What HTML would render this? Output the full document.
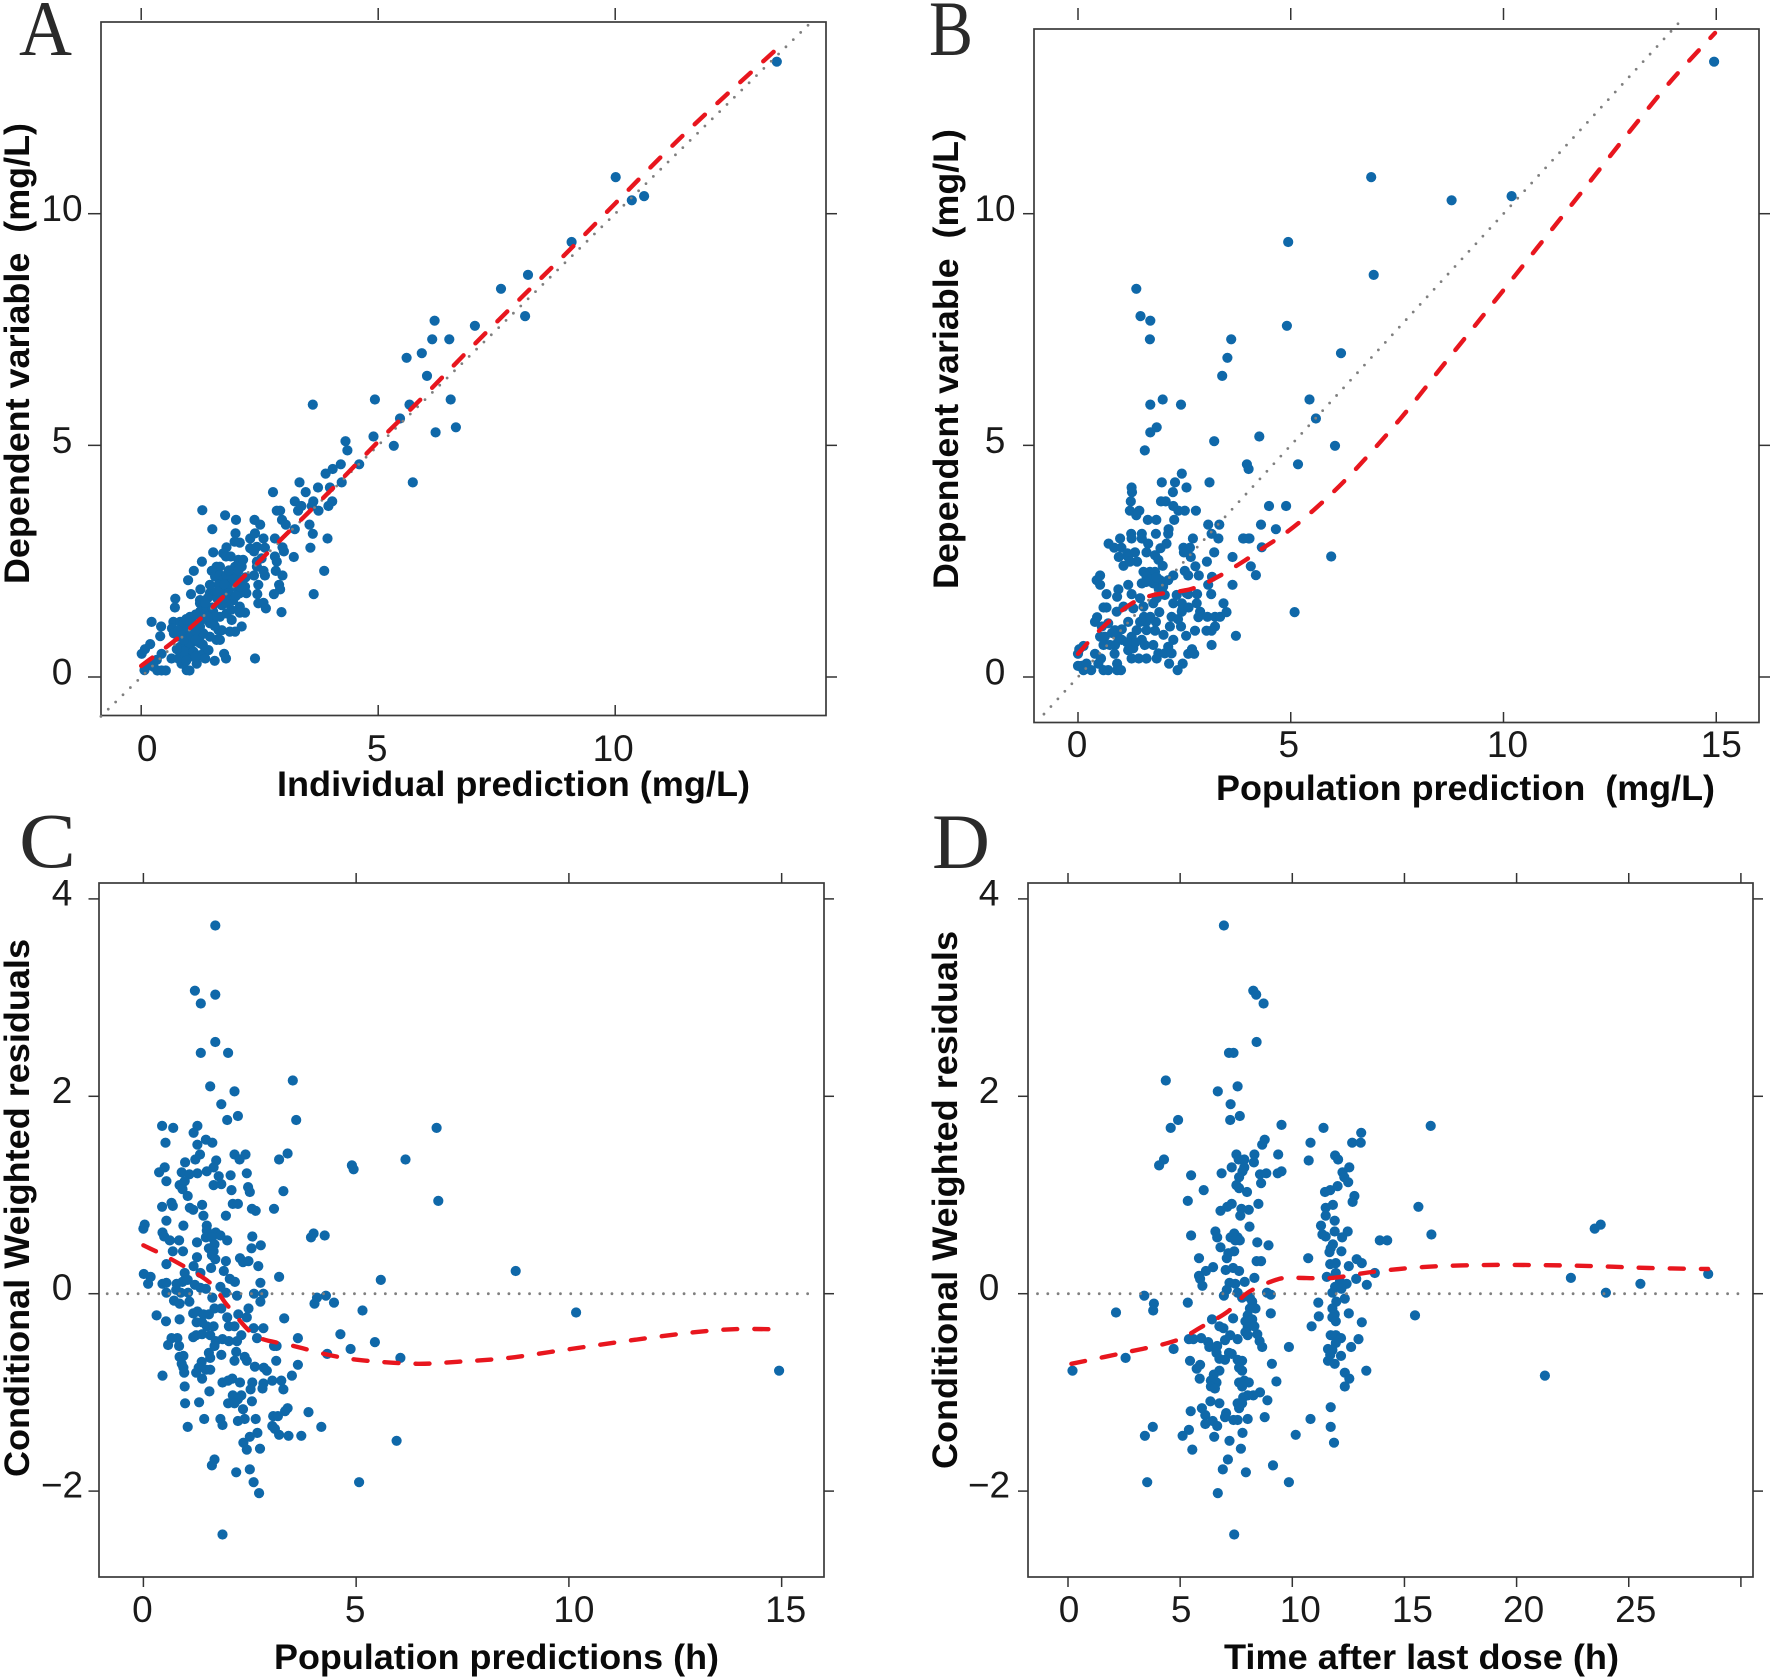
<!DOCTYPE html>
<html lang="en">
<head>
<meta charset="utf-8">
<title>Goodness-of-fit plots</title>
<style>
html,body{margin:0;padding:0;background:#fff;width:1772px;height:1680px;overflow:hidden}
svg{display:block}
text{font-family:"Liberation Sans",Arial,sans-serif;fill:#111}
.axis-title{font-weight:bold;font-size:35px;white-space:pre;fill:#0a0a0a}
.tick-label{font-size:37px;text-anchor:middle;fill:#1a1a1a}
.panel-letter{font-family:"Liberation Serif",serif;font-size:78px;fill:#2a2a2a}
.frame{fill:none;stroke:#3a3a3a;stroke-width:1.7}
</style>
</head>
<body>
<svg id="chart" xmlns="http://www.w3.org/2000/svg" width="1772" height="1680" viewBox="0 0 1772 1680">
<rect x="0" y="0" width="1772" height="1680" fill="#ffffff"/>

<text class="panel-letter" x="19" y="55" textLength="53" lengthAdjust="spacingAndGlyphs">A</text>
<text class="panel-letter" x="929" y="55" textLength="44" lengthAdjust="spacingAndGlyphs">B</text>
<text class="panel-letter" x="19" y="867" textLength="57" lengthAdjust="spacingAndGlyphs">C</text>
<text class="panel-letter" x="932" y="868" textLength="58" lengthAdjust="spacingAndGlyphs">D</text>

<rect class="frame" x="101" y="22" width="725" height="693.5"/>
<rect class="frame" x="1034" y="29" width="725" height="693.5"/>
<rect class="frame" x="99" y="883" width="725" height="694"/>
<rect class="frame" x="1028" y="883" width="725" height="694"/>

<text class="axis-title" x="277" y="796" textLength="473" lengthAdjust="spacingAndGlyphs">Individual prediction (mg/L)</text>
<text class="axis-title" transform="translate(29 584) rotate(-90)" x="0" y="0" textLength="461" lengthAdjust="spacingAndGlyphs">Dependent variable  (mg/L)</text>
<text class="axis-title" x="1216" y="800" textLength="499" lengthAdjust="spacingAndGlyphs">Population prediction  (mg/L)</text>
<text class="axis-title" transform="translate(958 589) rotate(-90)" x="0" y="0" textLength="460" lengthAdjust="spacingAndGlyphs">Dependent variable  (mg/L)</text>
<text class="axis-title" x="274" y="1669" textLength="445" lengthAdjust="spacingAndGlyphs">Population predictions (h)</text>
<text class="axis-title" transform="translate(29 1477) rotate(-90)" x="0" y="0" textLength="538" lengthAdjust="spacingAndGlyphs">Conditional Weighted residuals</text>
<text class="axis-title" x="1224" y="1669" textLength="395" lengthAdjust="spacingAndGlyphs">Time after last dose (h)</text>
<text class="axis-title" transform="translate(957 1469) rotate(-90)" x="0" y="0" textLength="538" lengthAdjust="spacingAndGlyphs">Conditional Weighted residuals</text>
</svg>

<script>
// ---------- Panel A data: individual prediction vs dependent variable ----------
const aPred = [13.41,10.01,10.35,10.61,9.08,8.16,7.59,8.10,7.04,6.19,6.14,6.50,5.92,5.60,6.03,6.53,4.93,3.62,5.66,5.46,6.64,6.21,4.90,4.31,5.33,4.35,4.60,4.21,4.04,3.89,5.73,4.23,3.34,3.98,3.73,3.47,2.78,
1.29,1.77,2.00,2.39,2.51,1.50,1.99,1.97,2.08,1.80,1.73,1.79,1.89,2.30,2.40,2.58,2.44,2.61,2.30,2.38,2.44,2.54,2.82,2.98,3.01,2.82,2.86,2.84,2.98,2.91,2.93,2.80,2.45,2.47,2.38,2.61,2.58,2.44,2.47,2.58,2.63,2.96,2.40,1.75,1.79,2.86,2.93,2.97,3.05,3.24,3.55,3.62,3.93,3.57,3.22,3.86,3.64,3.24,3.38,3.31,3.63,3.60,3.74,3.95,4.03,
.07,.17,.34,.43,.52,.01,.08,.19,.22,.42,.40,.64,.43,.33,.26,.72,.71,.99,1.11,1.28,1.05,1.25,1.52,
.68,.65,.69,.82,.78,.89,1.03,.97,1.10,1.24,1.24,1.38,1.45,1.59,1.66,1.49,1.56,1.66,1.73,1.80,1.91,1.98,2.05,2.15,2.12,2.01,2.08,2.19,2.22,2.08,1.94,1.80,1.63,1.45,1.56,1.70,1.84,1.94,2.08,2.19,2.08,1.91,1.80,1.66,1.52,1.63,1.70,1.59,1.66,2.12,1.98,1.87,1.45,1.31,1.24,1.10,.96,.89,.99,1.10,1.24,1.35,1.42,1.24,1.35,1.17,.96,1.02,.85,.78,1.03,.89,.96,.82,1.24,1.45,1.38,1.52,1.24,
.78,.85,1.00,1.10,.90,1.05,1.15,1.30,1.40,1.50,1.70,1.80,1.60,1.40,1.90,2.00,1.75,1.55,
.95,1.15,1.35,1.60,1.75,1.85,1.95,2.10,2.20,2.05,1.55,1.30,1.15,.90,.75,.95,1.15];
const aObs = [13.28,10.79,10.29,10.38,9.39,8.68,8.38,7.79,7.58,7.69,7.29,7.29,6.99,6.89,6.50,5.99,5.99,5.88,5.88,5.58,5.39,5.28,5.19,5.09,4.99,4.89,4.59,4.59,4.49,4.39,4.20,4.20,4.20,4.09,4.09,3.99,3.99,
3.60,3.49,3.39,3.39,3.29,3.19,3.10,2.92,2.90,2.80,2.67,2.60,2.60,2.99,3.10,2.99,2.81,2.79,2.78,2.71,2.49,2.56,2.99,2.80,2.71,2.60,2.49,2.29,2.19,1.99,1.89,1.79,1.79,1.99,2.19,2.19,2.29,2.38,1.59,1.60,1.48,1.40,.40,.50,.40,3.59,3.59,3.39,3.29,3.19,3.29,3.09,2.99,2.79,2.59,2.29,1.79,3.79,3.69,3.59,3.79,3.69,3.59,3.69,3.79,
.15,.26,.14,.14,.14,.50,.60,.71,1.19,1.09,.88,.40,.50,.37,.22,1.69,1.50,2.09,2.29,2.49,1.79,1.89,2.69,
1.19,1.05,.94,1.19,.87,1.16,1.30,1.05,1.16,1.59,1.41,1.45,1.81,2.38,2.38,2.29,2.17,2.20,2.09,2.20,2.17,2.38,2.53,2.53,2.38,2.17,2.02,1.95,1.81,1.81,1.95,1.99,1.99,1.99,1.81,1.81,1.81,1.66,1.52,1.39,1.39,1.23,1.37,1.30,1.23,1.01,1.01,.80,.80,1.09,.98,.98,1.16,.94,1.09,.94,.87,.65,.65,.76,.73,.58,.58,.47,.40,.29,.15,.14,.29,.40,.44,.51,.80,.65,.87,.87,1.52,1.41,1.66,
1.00,.90,.75,.55,.80,.90,1.00,1.25,1.30,1.50,1.55,1.60,1.70,1.70,1.45,1.75,2.00,.35,
1.25,1.35,1.60,1.85,1.70,2.30,2.10,1.95,2.15,2.30,1.10,.70,.80,.55,.60,.35,.45];
const aCurveX = [0,1,2,3,4,5,6,7,8,9,10,11,12,13.35];
const aCurveY = [.24,1.03,2.0,3.02,4.03,5.08,6.1,7.15,8.17,9.18,10.22,11.26,12.24,13.5];
const aRefX = [-.85,14.1];
const aRefY = [-.85,14.1];
const aXTicks = [0,5,10];
const aYTicks = [0,5,10];
const aXTickLabels = ['0','5','10'];
const aYTickLabels = ['0','5','10'];

// ---------- Panel B data: population prediction vs dependent variable ----------
const bPred = [14.95,6.89,8.78,10.19,4.94,6.95,1.37,1.47,1.70,1.69,3.60,3.51,4.91,6.18,3.39,5.44,1.99,1.70,2.42,5.59,1.85,1.70,4.26,3.20,6.04,1.57,5.17,3.97,4.01,2.44,1.97,2.28,3.09,1.26,2.55,1.27,2.23,1.24,1.95,2.06,4.49,4.89,5.95,5.09,4.30,4.65,3.88,4.01,4.06,4.18,4.32,
1.22,1.44,1.37,1.64,1.84,2.26,2.51,2.77,2.36,2.24,3.06,3.32,3.14,3.30,2.70,2.13,2.12,1.83,1.25,1.50,1.26,1.50,1.65,.99,.72,.85,1.02,1.16,1.34,.96,1.18,1.39,1.07,1.22,1.61,1.81,1.94,2.08,1.89,1.99,2.48,2.63,2.49,2.65,3.20,3.03,3.63,3.89,4.03,2.76,2.51,2.84,2.59,3.15,3.06,3.13,3.63,2.80,2.59,2.24,2.12,1.93,1.69,1.54,1.81,1.61,1.50,1.77,1.18,.52,.44,.52,.95,.67,.92,1.26,1.46,1.85,2.04,2.32,2.55,2.79,2.87,2.83,3.04,3.22,3.34,3.49,3.42,3.22,3.02,3.14,2.75,3.71,3.14,2.54,2.42,2.24,2.12,2.01,1.81,1.83,2.16,2.20,2.44,2.44,2.24,1.91,1.77,1.54,1.30,1.07,.91,.60,.67,.45,.40,.56,.71,.52,.63,.87,1.03,1.18,1.46,1.60,1.38,1.61,1.26,1.50,1.77,1.18,1.30,1.57,.60,.87,.75,1.03,.03,0,.13,.40,.54,.48,.86,.92,1.26,1.43,1.61,1.85,1.89,2.04,2.20,2.14,2.46,2.34,2.59,2.73,2.68,0,.09,.20,.13,.31,.60,.71,.92,1.01,
1.70,1.85,1.90,2.00,1.60,2.45,2.60,2.35,1.35,1.15,.95,.80,1.55,1.70];
const bObs = [13.28,10.79,10.29,10.38,9.39,8.68,8.38,7.79,7.69,7.29,7.29,6.89,7.58,6.99,6.50,5.99,5.99,5.88,5.88,5.58,5.39,5.28,5.19,5.09,4.99,4.89,4.59,4.59,4.49,4.39,4.20,4.20,4.20,4.09,4.09,3.99,3.99,3.79,3.79,3.79,3.69,3.69,2.60,1.40,3.29,3.19,2.99,2.99,2.39,2.20,2.80,
3.59,3.59,3.49,3.39,3.39,3.39,3.59,3.59,3.59,3.69,3.29,3.29,3.09,2.99,2.99,3.19,3.09,3.09,3.09,3.09,2.99,2.99,2.88,2.99,2.88,2.79,2.79,2.67,2.69,2.59,2.59,2.49,2.40,2.49,2.69,2.63,2.78,2.88,2.53,2.40,2.79,2.79,2.69,2.59,2.69,2.49,2.59,2.99,2.99,2.39,2.29,2.19,2.19,2.16,1.99,1.79,1.99,1.79,1.79,2.19,2.09,2.09,2.27,2.27,2.27,2.17,2.02,2.02,1.99,2.19,2.09,1.99,1.89,1.79,1.73,1.79,1.70,1.70,1.77,1.77,1.81,1.59,1.41,1.29,1.30,1.30,1.30,1.40,1.59,1.09,1.00,1.00,1.00,.89,.69,.89,1.09,.80,.65,.91,1.00,1.19,1.09,1.30,1.59,1.41,1.59,1.40,1.59,1.52,1.48,1.52,1.41,1.50,1.50,1.29,1.19,1.09,1.16,.87,.87,1.01,1.03,1.19,1.19,1.19,1.01,1.01,.87,.80,.69,.58,.62,.69,.69,.69,.69,.80,.60,.50,.67,.50,.40,.29,.50,.29,.40,.40,.40,.40,.51,.51,.51,.29,.29,.15,.50,.50,.60,.24,.24,.29,.15,.15,.15,.15,.15,.15,
2.10,2.15,1.90,1.95,2.05,1.45,1.50,1.25,.75,.75,.85,.95,1.30,1.30];
const bCurveX = [0,.53,1.2,1.73,2.66,3.32,3.98,4.14,4.94,5.73,6.53,7.59,8.65,9.72,10.78,11.84,12.9,13.97,14.97];
const bCurveY = [.5,1.03,1.55,1.76,1.9,2.18,2.55,2.66,3.15,3.76,4.49,5.59,6.81,8.03,9.25,10.47,11.7,12.9,13.9];
const bRefX = [-.8,14.24];
const bRefY = [-.8,14.24];
const bXTicks = [0,5,10,15];
const bYTicks = [0,5,10];
const bXTickLabels = ['0','5','10','15'];
const bYTickLabels = ['0','5','10'];

// ---------- Panel C data: population prediction vs CWRES ----------
const cPred = [1.69,1.21,1.69,1.35,1.69,1.35,1.99,3.51,1.57,2.14,1.83,3.59,1.97,2.22,.44,.70,1.27,1.18,6.89,1.47,.52,1.27,1.62,1.33,2.14,2.40,2.26,3.39,3.19,6.16,1.22,.98,1.71,4.90,4.94,.50,.37,.90,1.65,1.27,1.49,1.08,1.77,2.05,2.43,.54,.97,1.65,1.83,.85,2.46,2.07,2.50,3.29,.92,1.04,6.93,.66,.44,.69,2.10,2.22,1.38,1.09,1.17,2.55,2.64,3.07,1.94,1.41,.54,.94,1.49,.03,0,1.49,.45,.49,1.70,1.81,1.47,1.61,2.56,.84,.62,1.97,1.26,1.67,2.76,2.54,1.54,1.65,.69,.93,1.61,1.26,2.27,2.34,2.47,1.94,1.69,.54,1.18,1.59,2.70,1.89,8.75,1.34,.01,.17,3.19,.97,2.03,2.15,5.58,2.75,.11,.45,.54,.78,.92,1.04,1.21,1.34,1.47,.54,.77,.88,1.05,1.81,1.94,2.20,2.60,2.82,4.29,4.08,4.02,4.48,5.15,10.17,1.62,.72,.85,1.08,2.75,.31,.53,.85,1.17,1.27,1.41,1.54,1.25,1.38,1.67,1.83,1.97,2.23,2.47,2.43,2.01,2.14,1.49,1.65,3.31,2.59,2.82,4.63,3.63,1.17,1.24,1.38,1.57,.80,.66,2.30,2.20,2.67,1.70,1.86,2.01,1.67,1.54,.58,.84,3.07,3.13,4.87,5.44,4.32,6.04,.85,.94,1.83,1.57,2.18,2.14,2.38,2.43,1.37,3.12,.90,.94,1.30,3.63,2.62,2.83,2.90,1.47,1.57,14.94,1.24,.45,.96,1.38,3.49,1.86,2.09,1.99,2.27,2.56,2.82,3.03,3.24,.97,2.80,2.52,3.29,1.55,2.10,2.30,2.22,1.31,.98,1.99,2.14,2.55,2.34,3.39,3.33,3.88,3.05,3.16,1.43,1.81,2.22,2.38,2.64,1.04,1.86,3.03,3.09,4.18,2.68,3.19,3.41,3.71,2.50,5.95,2.35,2.43,2.74,1.67,1.61,2.50,2.18,5.07,2.59,2.72,1.86,3.94,4.00,4.26];
const cRes = [3.73,3.07,3.03,2.94,2.55,2.44,2.44,2.16,2.10,2.05,1.92,1.76,1.76,1.80,1.70,1.68,1.70,1.63,1.68,1.56,1.53,1.51,1.53,1.41,1.41,1.41,1.36,1.42,1.36,1.36,1.36,1.33,1.35,1.30,1.26,1.28,1.23,1.23,1.28,1.22,1.24,1.21,1.19,1.20,1.22,1.14,1.14,1.10,1.11,1.10,1.08,1.05,1.03,1.04,1.06,.99,.94,.92,.88,.89,.91,.91,.90,.87,.85,.86,.84,.86,.79,.79,.74,.69,.69,.70,.66,.64,.62,.58,.62,.59,.57,.57,.58,.54,.54,.54,.52,.50,.49,.46,.46,.43,.43,.43,.39,.37,.36,.32,.33,.33,.35,.30,.28,.26,.28,.23,.23,.21,.20,.17,.17,.21,.15,.12,.14,.11,.10,.10,.11,.10,.12,.14,.09,.06,.05,.01,.04,.01,.01,.07,.01,-.02,0,0,-.02,-.04,-.10,-.09,-.17,-.19,-.04,-.07,-.10,-.08,-.08,-.22,-.28,-.26,-.20,-.18,-.21,-.21,-.29,-.29,-.15,-.15,-.24,-.21,-.15,-.24,-.33,-.33,-.33,-.33,-.25,-.35,-.35,-.41,-.45,-.44,-.42,-.41,-.42,-.45,-.45,-.42,-.48,-.45,-.48,-.46,-.48,-.53,-.60,-.52,-.53,-.53,-.53,-.56,-.49,-.61,-.65,-.64,-.63,-.62,-.65,-.59,-.68,-.64,-.68,-.69,-.68,-.71,-.75,-.75,-.72,-.74,-.75,-.78,-.77,-.77,-.78,-.80,-.83,-.80,-.86,-.83,-.90,-.86,-.88,-.90,-.90,-.91,-.88,-.88,-.94,-.96,-.97,-.97,-.99,-1.03,-1.03,-1.07,-1.10,-1.11,-1.11,-1.11,-1.09,-1.17,-1.16,-1.19,-1.20,-1.24,-1.24,-1.27,-1.27,-1.29,-1.27,-1.27,-1.35,-1.33,-1.34,-1.37,-1.35,-1.41,-1.43,-1.44,-1.44,-1.45,-1.49,-1.51,-1.58,-1.57,-1.68,-1.74,-1.78,-1.81,-1.91,-1.91,-2.02,-2.44,.57,.61,.59];
const cCurveX = [0,.61,1.54,1.94,2.47,2.8,3.53,4.46,5.26,6.45,7.38,8.58,10.04,11.5,12.96,13.89,14.75];
const cCurveY = [.49,.36,.12,-.10,-.37,-.46,-.53,-.63,-.68,-.71,-.69,-.65,-.56,-.47,-.39,-.36,-.36];
const cRefX = [-.85,15.8];
const cRefY = [0,0];
const cXTicks = [0,5,10,15];
const cYTicks = [-2,0,2,4];
const cXTickLabels = ['0','5','10','15'];
const cYTickLabels = ['\u22122','0','2','4'];

// ---------- Panel D data: time after last dose vs CWRES ----------
const dTime = [6.95,8.26,8.39,8.72,8.41,7.18,7.38,4.36,7.56,6.68,7.25,4.91,7.23,7.66,4.58,9.52,11.39,16.17,13.07,8.77,8.66,12.67,13.05,10.81,7.51,9.37,11.91,8.31,7.61,7.86,4.28,4.06,12.04,10.73,8.29,7.30,7.86,12.54,12.24,5.49,6.85,7.78,8.56,8.84,9.35,9.52,7.63,12.32,12.49,7.51,12.02,7.63,8.61,6.05,11.69,11.46,7.98,5.34,12.77,12.69,8.49,7.30,7.10,6.80,7.73,8.06,11.81,11.49,15.62,7.68,11.49,11.89,8.09,11.28,23.75,23.48,6.57,12.47,11.89,11.34,16.20,5.49,7.41,6.65,7.25,7.56,11.49,12.22,7.46,7.66,13.90,14.23,8.44,8.94,6.80,11.81,11.71,11.66,12.19,7.41,7.15,7.08,5.84,10.71,12.87,8.41,8.61,13.10,11.69,11.94,6.47,7.36,12.52,6.15,7.03,7.63,5.84,5.89,13.68,11.94,8.31,11.54,12.85,22.42,28.54,25.52,13.32,7.88,7.20,7.46,7.08,5.99,12.12,12.42,11.91,12.19,11.79,6.95,7.56,23.98,8.87,9.04,3.40,7.76,8.11,12.34,5.34,3.83,3.80,2.14,8.21,11.96,11.16,8.36,8.11,9.04,11.79,11.89,12.52,11.18,15.47,6.42,7.36,11.79,11.94,8.01,7.91,8.21,13.10,6.75,6.93,10.86,8.01,8.31,7.91,8.44,7.23,8.01,11.71,11.94,12.17,12.95,8.54,5.39,5.59,7.0,7.56,5.94,6.25,4.71,8.66,9.85,6.30,6.65,11.94,11.59,12.62,11.79,6.62,7.18,7.30,11.69,12.17,2.57,5.44,6.75,7.0,7.56,7.76,11.59,11.89,9.09,5.89,5.74,7.63,7.76,6.75,.20,13.30,12.34,12.54,21.26,6.50,5.87,9.29,6.37,6.62,7.63,7.86,8.06,7.76,6.37,6.55,12.34,8.56,8.26,8.01,7.81,8.89,6.35,6.75,7.56,7.76,7.63,11.71,5.97,5.47,6.12,7.05,7.0,8.77,8.01,10.81,7.38,7.56,6.12,6.45,6.65,3.78,5.39,11.71,3.43,5.11,6.52,10.15,7.78,7.20,11.86,5.54,7.71,7.13,9.14,6.90,7.93,3.53,9.85,6.68,7.41];
const dRes = [3.73,3.07,3.03,2.94,2.55,2.44,2.44,2.16,2.10,2.05,1.92,1.76,1.76,1.80,1.68,1.71,1.68,1.70,1.63,1.56,1.51,1.53,1.53,1.53,1.41,1.41,1.40,1.41,1.36,1.36,1.36,1.30,1.36,1.35,1.33,1.28,1.28,1.28,1.23,1.20,1.22,1.24,1.21,1.22,1.22,1.24,1.18,1.18,1.13,1.10,1.09,1.07,1.12,1.05,1.05,1.03,1.03,.94,.99,.93,.91,.91,.88,.84,.86,.85,.90,.87,.88,.79,.79,.74,.68,.69,.70,.66,.63,.63,.63,.60,.60,.59,.61,.57,.57,.57,.58,.57,.54,.54,.54,.54,.52,.49,.47,.50,.46,.42,.43,.43,.41,.36,.36,.36,.35,.33,.33,.31,.30,.31,.27,.26,.28,.23,.24,.23,.18,.15,.21,.21,.16,.17,.15,.16,.20,.10,.09,.12,.11,.10,.04,.08,.12,.10,.07,.05,.01,-.02,.01,.01,.01,-.01,-.02,-.04,-.04,-.05,-.09,-.10,-.17,-.19,-.08,-.08,-.09,-.15,-.15,-.20,-.15,-.21,-.20,-.23,-.22,-.26,-.25,-.24,-.28,-.22,-.28,-.26,-.29,-.33,-.35,-.33,-.34,-.33,-.39,-.41,-.42,-.42,-.42,-.42,-.45,-.46,-.48,-.46,-.46,-.47,-.46,-.45,-.49,-.56,-.54,-.54,-.54,-.53,-.50,-.56,-.54,-.57,-.60,-.60,-.61,-.62,-.63,-.65,-.68,-.66,-.67,-.67,-.68,-.68,-.71,-.71,-.72,-.76,-.75,-.78,-.78,-.78,-.78,-.80,-.86,-.83,-.82,-.86,-.89,-.88,-.90,-.90,-.88,-.90,-.94,-.94,-.96,-.94,-1.00,-1.03,-1.03,-1.05,-1.08,-1.09,-1.11,-1.11,-1.11,-1.16,-1.15,-1.16,-1.19,-1.23,-1.21,-1.25,-1.25,-1.27,-1.27,-1.28,-1.28,-1.32,-1.29,-1.34,-1.35,-1.38,-1.35,-1.44,-1.44,-1.45,-1.43,-1.41,-1.49,-1.51,-1.58,-1.57,-1.68,-1.74,-1.78,-1.81,-1.91,-1.91,-2.02,-2.44];
const dCurveX = [.15,2.47,4.74,6,7.13,8.01,9.27,10.03,11.79,13.55,15.82,18.34,20.86,23.38,25.89,28.54];
const dCurveY = [-.71,-.60,-.48,-.33,-.18,.01,.14,.16,.16,.22,.27,.29,.29,.28,.26,.25];
const dRefX = [-1.36,30.2];
const dRefY = [0,0];
const dXTicks = [0,5,10,15,20,25,30];
const dYTicks = [-2,0,2,4];
const dXTickLabels = ['0','5','10','15','20','25',''];
const dYTickLabels = ['\u22122','0','2','4'];

// ---------- Layout (pixels) kept apart from the data ----------
const NS = 'http://www.w3.org/2000/svg';
const svg = document.getElementById('chart');

const panels = [
  {key:'a', xs:aPred, ys:aObs, cx:aCurveX, cy:aCurveY, rx:aRefX, ry:aRefY, xt:aXTicks, yt:aYTicks, xl:aXTickLabels, yl:aYTickLabels,
   left:101, right:826, top:22, bottom:715.5, x0:141.2, kx:47.4, y0:677, ky:46.33,
   topTick:[8,20], botTick:[705,715.5], leftTick:[88,101], rightTick:[826,837], xLabDx:[6,-1,-2], xLabY:761, yLabX:62, yLabDy:7.5},
  {key:'b', xs:bPred, ys:bObs, cx:bCurveX, cy:bCurveY, rx:bRefX, ry:bRefY, xt:bXTicks, yt:bYTicks, xl:bXTickLabels, yl:bYTickLabels,
   left:1034, right:1759, top:29, bottom:722.5, x0:1078, kx:42.55, y0:677, ky:46.33,
   topTick:[8,20], botTick:[712,722.5], leftTick:[1023,1034], rightTick:[1759,1770], xLabDx:[-1,-2,4,5], xLabY:757, yLabX:995, yLabDy:7.5},
  {key:'c', xs:cPred, ys:cRes, cx:cCurveX, cy:cCurveY, rx:cRefX, ry:cRefY, xt:cXTicks, yt:cYTicks, xl:cXTickLabels, yl:cYTickLabels,
   left:99, right:824, top:883, bottom:1577, x0:143.4, kx:42.55, y0:1293.7, ky:98.7,
   topTick:[873,883], botTick:[1577,1587], leftTick:[88.5,99], rightTick:[824,834], xLabDx:[-1,-1,5,4], xLabY:1622, yLabX:62, yLabDy:6.5},
  {key:'d', xs:dTime, ys:dRes, cx:dCurveX, cy:dCurveY, rx:dRefX, ry:dRefY, xt:dXTicks, yt:dYTicks, xl:dXTickLabels, yl:dYTickLabels,
   left:1028, right:1753, top:883, bottom:1577, x0:1068, kx:22.43, y0:1293.7, ky:98.7,
   topTick:[873,883], botTick:[1577,1587], leftTick:[1018,1028], rightTick:[1753,1763], xLabDx:[1,1,8,8,7,7,0], xLabY:1622, yLabX:989, yLabDy:6.5}
];

function addLine(x1, y1, x2, y2) {
  const el = document.createElementNS(NS, 'line');
  el.setAttribute('x1', x1);
  el.setAttribute('y1', y1);
  el.setAttribute('x2', x2);
  el.setAttribute('y2', y2);
  el.setAttribute('stroke', '#333333');
  el.setAttribute('stroke-width', '1.5');
  svg.appendChild(el);
  return el;
}

function smoothPath(px, py) {
  let d = 'M' + px[0].toFixed(1) + ' ' + py[0].toFixed(1);
  for (let i = 0; i < px.length - 1; i++) {
    const a = Math.max(i - 1, 0), b = i + 1, c = Math.min(i + 2, px.length - 1);
    const c1x = px[i] + (px[b] - px[a]) / 6, c1y = py[i] + (py[b] - py[a]) / 6;
    const c2x = px[b] - (px[c] - px[i]) / 6, c2y = py[b] - (py[c] - py[i]) / 6;
    d += ' C' + c1x.toFixed(1) + ' ' + c1y.toFixed(1) + ' ' + c2x.toFixed(1) + ' ' + c2y.toFixed(1) + ' ' + px[b].toFixed(1) + ' ' + py[b].toFixed(1);
  }
  return d;
}

panels.forEach(function (p) {
  const sx = function (v) { return p.x0 + v * p.kx; };
  const sy = function (v) { return p.y0 - v * p.ky; };

  // x ticks on top and bottom, x labels
  p.xt.forEach(function (t, i) {
    const top = addLine(sx(t), p.topTick[0], sx(t), p.topTick[1]);
    
    
    const bot = addLine(sx(t), p.botTick[0], sx(t), p.botTick[1]);
    
    
    if (p.xl[i]) {
      const lab = document.createElementNS(NS, 'text');
      lab.setAttribute('class', 'tick-label');
      lab.setAttribute('x', sx(t) + p.xLabDx[i]);
      lab.setAttribute('y', p.xLabY);
      
      
      lab.textContent = p.xl[i];
      svg.appendChild(lab);
    }
  });

  // y ticks on left and right, y labels
  p.yt.forEach(function (t, i) {
    const l = addLine(p.leftTick[0], sy(t), p.leftTick[1], sy(t));
    
    
    const r = addLine(p.rightTick[0], sy(t), p.rightTick[1], sy(t));
    
    
    const lab = document.createElementNS(NS, 'text');
    lab.setAttribute('class', 'tick-label');
    lab.setAttribute('x', p.yLabX);
    lab.setAttribute('y', sy(t) + p.yLabDy);
    
    
    lab.textContent = p.yl[i];
    svg.appendChild(lab);
  });

  // scatter points
  const n = Math.min(p.xs.length, p.ys.length);
  for (let i = 0; i < n; i++) {
    const dot = document.createElementNS(NS, 'circle');
    dot.setAttribute('cx', sx(p.xs[i]).toFixed(1));
    dot.setAttribute('cy', sy(p.ys[i]).toFixed(1));
    dot.setAttribute('r', '5.1');
    dot.setAttribute('fill', '#0f68a9');
    
    
    svg.appendChild(dot);
  }

  // dotted reference line
  const ref = document.createElementNS(NS, 'line');
  ref.setAttribute('x1', sx(p.rx[0]));
  ref.setAttribute('y1', sy(p.ry[0]));
  ref.setAttribute('x2', sx(p.rx[1]));
  ref.setAttribute('y2', sy(p.ry[1]));
  ref.setAttribute('stroke', '#7f7f7f');
  ref.setAttribute('stroke-width', '2.8');
  ref.setAttribute('stroke-linecap', 'round');
  ref.setAttribute('stroke-dasharray', '0 10.3');
  
  
  svg.appendChild(ref);

  // red dashed smoother
  const curve = document.createElementNS(NS, 'path');
  curve.setAttribute('d', smoothPath(p.cx.map(sx), p.cy.map(sy)));
  curve.setAttribute('fill', 'none');
  curve.setAttribute('stroke', '#e8161e');
  curve.setAttribute('stroke-width', '4.4');
  curve.setAttribute('stroke-linecap', 'round');
  curve.setAttribute('stroke-dasharray', '14 17');
  
  
  svg.appendChild(curve);
});
</script>
</body>
</html>
